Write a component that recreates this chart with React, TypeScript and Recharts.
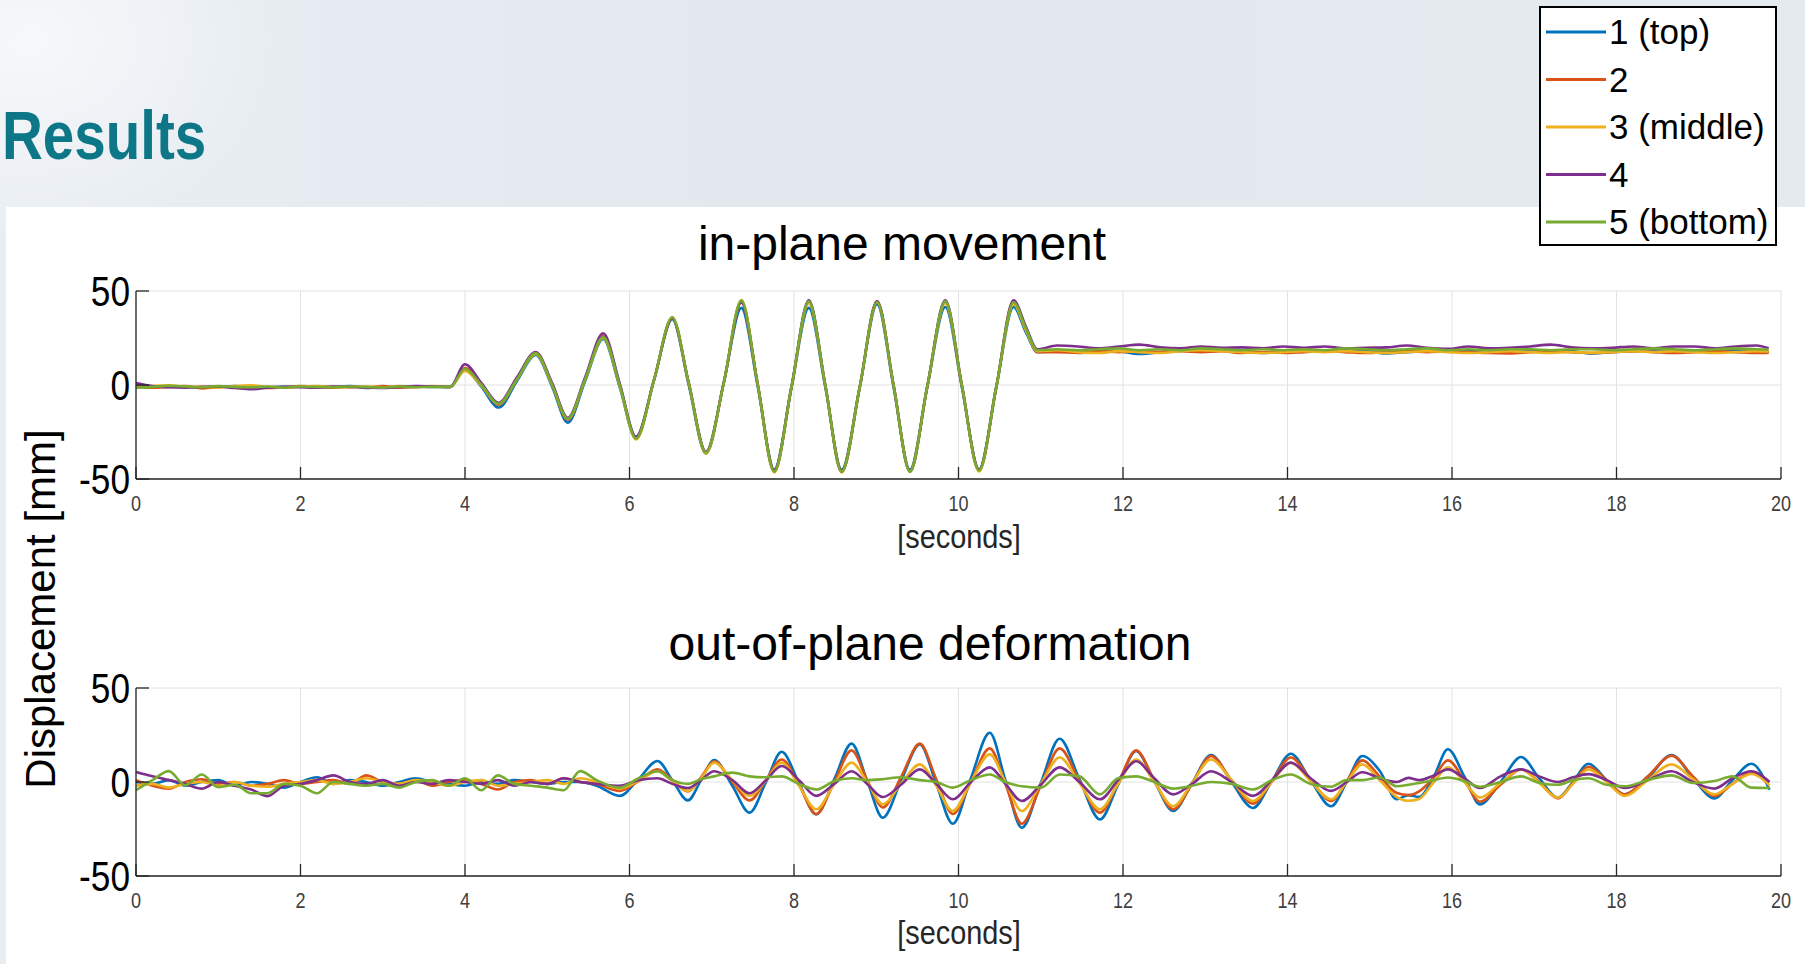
import React from "react";
import { LineChart, Line, XAxis, YAxis, CartesianGrid } from "recharts";

// series labels / colours (MATLAB default order)
const seriesNames = ["1 (top)", "2", "3 (middle)", "4", "5 (bottom)"];
const seriesColors = ["#0072BD", "#D95319", "#EDB120", "#7E2F8E", "#77AC30"];

const xTicks = [0, 2, 4, 6, 8, 10, 12, 14, 16, 18, 20];
const yTicks = [-50, 0, 50];

// ---- in-plane movement ----
const topTime = [
  0, 0.2, 0.4, 0.6, 0.8, 1, 1.2, 1.4, 1.6, 1.8, 2, 2.2, 2.4, 2.6, 2.8, 3, 3.2, 3.4, 3.6,
  3.82, 4, 4.2, 4.41, 4.63, 4.86, 5.06, 5.25, 5.46, 5.68, 5.88, 6.08, 6.3, 6.52, 6.72, 6.93, 7.15, 7.36,
  7.56, 7.76, 7.97, 8.18, 8.38, 8.58, 8.8, 9.01, 9.21, 9.41, 9.62, 9.84, 10.04, 10.25, 10.46, 10.67, 10.82, 10.96,
  11.2, 11.45, 11.7, 11.95, 12.2, 12.45, 12.7, 12.95, 13.2, 13.45, 13.7, 13.95, 14.2, 14.45, 14.7, 14.95, 15.2,
  15.45, 15.7, 15.95, 16.2, 16.45, 16.7, 16.95, 17.2, 17.45, 17.7, 17.95, 18.2, 18.45, 18.7, 18.95, 19.2, 19.45,
  19.7, 19.85,
];
const top1 = [
  -1, -1, -0.8, -1, -1.2, -1, -0.6, -1.4, -1.2, -1, -0.8, -1.2, -1, -0.6, -1.6, -1, -1.2, -0.8, -1,
  -1, 8, -1, -12, 2, 16, -1, -20, 2, 24.5, -1, -28.5, 3, 35, 0, -36.5, 2, 41, -1, -45, -1, 41, -1, -45, -1, 43,
  -1, -45, -1, 41.5, -1, -45, -1, 41.5, 28, 17.5,
  18, 17.5, 18.5, 18, 16.5, 17.5, 18.5, 18, 18.5, 18, 17, 18, 18.5, 18, 18.5, 18, 16.8, 17.5, 18, 18.5, 18, 18.5,
  17.5, 18, 18.5, 18, 16.8, 17.5, 18, 18.5, 18, 18, 17.5, 18.5, 18, 17.5,
];
const top2 = [
  -0.5, -1.5, -1, -0.6, -1.8, -1, -1.2, -0.8, -1.6, -1.2, -0.6, -1, -1.4, -1, -1.2, -0.6, -1.4, -1, -0.8,
  -1, 9, 0, -10.5, 3, 17, 0, -18.5, 3, 26, 0, -28, 3, 35.5, 1, -36, 2, 44, 0, -46, -1, 44, 0, -46, -1, 44.5,
  0, -46, -1, 44, 0, -45.5, -1, 44.5, 30, 17.5,
  17.5, 17, 18, 17.5, 18, 17.5, 18, 17.5, 18, 17, 17.5, 17, 17.5, 18, 17.5, 17, 17.5, 18, 17.5, 18, 17.5, 17,
  16.8, 17.5, 18, 17.5, 17, 17.5, 18, 17.5, 17, 17.5, 18, 17.5, 17, 17.2,
];
const top3 = [
  -1.5, -0.5, -0.2, -1, -0.8, -1.4, -0.6, -0.2, -1, -1.4, -0.8, -0.6, -1, -1.2, -0.8, -1.2, -0.6, -1, -0.6,
  -1, 7.5, -0.5, -10, 3, 16.5, 0, -18, 3, 25, 0, -29, 3, 36, 1, -36.5, 2, 45, 0, -46.5, -1, 43.5, 0, -46.5, -1, 44,
  0, -46, -1, 43.5, 0, -46, -1, 43, 29, 18,
  18.5, 17.5, 17, 18, 17.5, 17, 18, 18.5, 18, 17.5, 17, 17.5, 18, 17.5, 18, 17.5, 17, 17.5, 18, 17.5, 17, 17.5,
  18, 17.5, 17, 17.5, 17.2, 17.5, 18, 17.5, 18, 17.5, 17, 17.5, 18, 17.8,
];
const top4 = [
  1, -0.6, -1.2, -1.4, -1, -0.8, -1.6, -2.3, -1.4, -1, -1.2, -1.4, -0.8, -1, -1.2, -1.6, -1, -0.6, -0.8,
  -1, 11, 1, -9.5, 4, 17.5, 1, -17.5, 4, 27.5, 1, -27.5, 3, 35.5, 1, -35.5, 2, 44, 0, -45.5, -1, 45, 0, -46, -1, 44.5,
  0, -46, -1, 45, 0, -45, -1, 45, 31, 19,
  21, 20.5, 19.5, 20.5, 21.5, 20, 19.5, 20.5, 19.8, 20, 19.5, 20.5, 19.8, 20.5, 19.5, 19.8, 20, 21, 19.8, 19.2,
  20.5, 19.5, 19.8, 20.5, 21.5, 20, 19.5, 19.8, 20.5, 19.5, 20.5, 20.5, 19.5, 20.5, 21, 19.5,
];
const top5 = [
  -1.4, -1, -0.4, -0.8, -1.2, -0.6, -1, -1.2, -0.8, -1.4, -0.8, -1, -1.2, -0.8, -1, -1.4, -0.8, -1.2, -1,
  -1, 8.5, 0, -10, 3, 17, 0, -18, 3, 25.5, 0, -28.5, 3, 36, 1, -36, 2, 45, 0, -46, -1, 44.5, 0, -46, -1, 44,
  0, -46, -1, 44.5, 0, -45.5, -1, 44, 30, 18.5,
  19, 18.5, 19, 19.5, 18.5, 19, 18.5, 19.5, 19, 18.5, 19, 18.5, 19, 18.5, 19.5, 19, 18.5, 19, 19.5, 18.5, 19,
  18.5, 19, 19, 18.5, 19, 19, 18.5, 19, 19.5, 19, 18.5, 19, 19.5, 19, 18.8,
];

// ---- out-of-plane deformation ----
const botTime = [
  0, 0.2, 0.4, 0.6, 0.8, 1, 1.2, 1.4, 1.6, 1.8, 2, 2.2, 2.4, 2.6, 2.8, 3, 3.2, 3.4, 3.6, 3.8, 4, 4.2, 4.4, 4.6,
  4.8, 5, 5.2, 5.4, 5.6,
  5.88, 6.11, 6.34, 6.52, 6.71, 6.87, 7.03, 7.25, 7.46, 7.66, 7.85, 8.06, 8.27, 8.49, 8.7, 8.89, 9.08, 9.3, 9.53,
  9.73, 9.93, 10.15, 10.38, 10.57, 10.77, 11, 11.23, 11.47, 11.72, 11.94, 12.16, 12.38, 12.61, 12.84, 13.07,
  13.32, 13.58, 13.81, 14.04, 14.28, 14.53, 14.72, 14.91, 15.12, 15.33, 15.47, 15.6, 15.78, 15.95, 16.15, 16.34,
  16.59, 16.84, 17.06, 17.29, 17.47, 17.66, 17.88, 18.1, 18.38, 18.67, 18.93, 19.19, 19.41, 19.64, 19.86,
];
const bot1 = [
  0, -1, 1, -2, 0, 1, -2, 0, -1, -3, 0, 2.5, -1, 1, 0, -2, 0, 2, 0, -1, -2, 0, -1, 1, 0, -1, 0, 0, -2,
  -7.4, 1.5, 11.2, 1, -9.8, 1, 11.7, -2, -16.3, 0, 16.1, -0.5, -17.2, 1.5, 20.4, 0.5, -19, 0.5, 20, -1,
  -22.2, 2, 26.2, 1, -24.3, -0.5, 23, 1.5, -19.9, -1.5, 16.5, 0.5, -15.4, -0.5, 14.4, 0, -13.8, 0.5, 15, 1,
  -12.9, 0, 13.8, 6, -9.2, -7, -8, 3, 17.4, 3, -11.9, 0, 13.3, 2, -8.3, 0, 9.7, 1, -6.6, 2, 14.4, 2, -8.7, 1,
  9.7, -4.1,
];
const bot2 = [
  1, -2, -3.5, 0, 1.5, -1, 0, -2, -1, 1, -1, 0, 1, -1, 3.5, 0, -1, 1, -2, 0, 1, -1, -4, 0, 1, -1, 2, 0, -1,
  -4.7, 0.5, 6.7, 1, -5, 2.5, 11, 0, -9.8, 1, 12, -1.5, -17, 0, 16.8, 1, -13.5, 2.5, 20.4, 1.5,
  -17, 0, 17.9, -1, -22.2, -2, 17.9, 0.5, -16.3, -0.5, 16.8, 1, -14.5, -1, 13.8, 1, -11.5, 0.5, 13, 1.5,
  -10.1, 0.5, 11.5, 3, -5.9, -7, -5, 2.5, 11.5, 1, -10.5, -1.5, 6.7, 0, -8.7, -0.5, 8.1, 1, -6.6, 3, 14, 3,
  -7.4, -1, 5.2, 0,
];
const bot3 = [
  -2, -1, -3, -1, 0, -2, 0, -2, -2.5, -1, 0, 1, -1, 0, 2, 0, -1, 1, 0, -2, 0, 1, -2, -1, 0, 1, -1, 2, 0,
  -3.5, 0.5, 5.7, 0.5, -4.7, 2, 10.3, 1, -7.4, 1, 10.3, -2, -14.5, -1, 10.3, 0, -11.8, -1, 9.4, -2,
  -15.4, 0, 14.7, 0, -15.4, -1, 13, -0.5, -14.5, -1, 12, 0, -12.9, -0.5, 12, 1, -10.1, 0, 10.3, 0.5,
  -9.2, 0, 9.4, 1, -8, -10, -9, 0, 7.8, 0, -8.3, -0.5, 6.7, -0.5, -8.3, -1, 6.7, 0, -7.4, 1, 9.4, 1.5,
  -6.6, -1, 4.3, -1.8,
];
const bot4 = [
  5.3, 3, 1, -1, -3.5, 0, -2, -4, -7.5, -2, -1, 1, 3.5, 0, -1, 1, -2, 0, -1, 1, 0, -1, 1, -2, 0, -1, 2, 0, -1,
  -2, 1, 2, -1, -3.2, 1, 5.7, 1, -6, 1, 8.5, 1, -7.4, -1, 5.7, -1, -8, -1.5, 6.7, -1,
  -9.2, 0, 7.8, -1, -10.1, -1.5, 7.8, 0, -9.2, 1, 11, 2, -6.6, -1, 5.7, 0, -7.4, 1, 10.3, 2,
  -4.7, 0, 5.2, 2, 0, 2.2, 1, 3.5, 6.7, 2, -3.2, 3, 6.7, 3, 0, 2.5, 4.2, 1, -3.2, 1, 5.7, 0,
  -3.5, 2, 5.7, 0,
];
const bot5 = [
  -4.4, 1, 5.8, -1.8, 4, -2.7, -1.5, -6, -6, -1, -2, -6, 0, -1, -2, -1, -3, 0, 1, -2, 2, -4.4, 3.5, -1, -2, -3,
  -4.4, 5.8, 1,
  -3, 2, 5.7, 1, -1, 1.5, 3, 5, 3, 2.5, 3, -1, -4, 0.5, 2, 1, 1.5, 2.5, 1, 0,
  -3, 1, 4, 0, -2.3, -3, 4, 3, -6.6, 2, 3, 0, -3.5, -2, 0, -1, -4, 1, 4, -1,
  -2.5, 1, 1, 2.4, -2.3, -1.5, -0.5, 1, 2.4, 0.5, -2.5, 0, 3, -0.5, -1.5, 1, 2, -1.5, -2.3, 1, 3.5, -0.5,
  0.5, 3, -3, -3.2,
];

const makeRows = (time: number[], series: number[][]) =>
  time.map((t, i) => {
    const row: Record<string, number> = { t };
    series.forEach((s, k) => {
      row[`s${k + 1}`] = s[i];
    });
    return row;
  });

const topData = makeRows(topTime, [top1, top2, top3, top4, top5]);
const botData = makeRows(botTime, [bot1, bot2, bot3, bot4, bot5]);

const FONT = "'Liberation Sans', Arial, Helvetica, sans-serif";
const AXIS = "#262626";

// MATLAB style: ticks point inwards, narrow labels
const XTick = ({ x, y, payload }: any) => (
  <g>
    <line x1={x} y1={y} x2={x} y2={y - 12} stroke={AXIS} strokeWidth={1.3} />
    <text
      transform={`translate(${x},${y + 32}) scale(0.82,1)`}
      textAnchor="middle"
      fontSize={22}
      fontFamily={FONT}
      fill="#404040"
    >
      {payload.value}
    </text>
  </g>
);

const YTick = ({ x, y, payload }: any) => (
  <g>
    <line x1={x} y1={y} x2={x + 13} y2={y} stroke={AXIS} strokeWidth={1.3} />
    <text
      transform={`translate(${x - 6},${y + 15}) scale(0.82,1)`}
      textAnchor="end"
      fontSize={43}
      fontFamily={FONT}
      fill="#000"
    >
      {payload.value}
    </text>
  </g>
);

const Panel = ({ data, top, height, marginTop }: any) => (
  <div style={{ position: "absolute", left: 0, top }}>
    <LineChart
      width={1805}
      height={height}
      data={data}
      margin={{ top: marginTop, right: 24, bottom: 0, left: 0 }}
    >
      <CartesianGrid stroke="#e2e2e2" strokeWidth={1} />
      <XAxis
        dataKey="t"
        type="number"
        domain={[0, 20]}
        ticks={xTicks}
        interval={0}
        height={height - marginTop - 188}
        tickSize={0}
        tickMargin={0}
        tickLine={false}
        tick={<XTick />}
        axisLine={{ stroke: AXIS, strokeWidth: 1.3 }}
      />
      <YAxis
        type="number"
        domain={[-50, 50]}
        ticks={yTicks}
        interval={0}
        width={136}
        tickSize={0}
        tickMargin={0}
        tickLine={false}
        tick={<YTick />}
        axisLine={{ stroke: AXIS, strokeWidth: 1.3 }}
      />
      {seriesColors.map((c, k) => (
        <Line
          key={k}
          type="monotone"
          dataKey={`s${k + 1}`}
          stroke={c}
          strokeWidth={2.6}
          dot={false}
          isAnimationActive={false}
        />
      ))}
    </LineChart>
  </div>
);

const App: React.FC = () => {
  return (
    <div
      style={{
        position: "absolute",
        left: 0,
        top: 0,
        width: 1805,
        height: 964,
        overflow: "hidden",
        background:
          "radial-gradient(ellipse 260px 200px at 30px 40px, #f6f8fa 0%, rgba(246,248,250,0) 100%), linear-gradient(90deg, #e9eef3 0%, #e2e8ee 45%, #e5eaef 100%)",
        fontFamily: FONT,
      }}
    >
      {/* white slide panel */}
      <div style={{ position: "absolute", left: 6, top: 207, width: 1799, height: 757, background: "#fff" }} />

      <svg width={1805} height={964} style={{ position: "absolute", left: 0, top: 0 }}>
        <text
          transform="translate(2,159) scale(0.82,1)"
          fontSize={69}
          fontWeight="bold"
          fontFamily={FONT}
          fill="#0e7787"
        >
          Results
        </text>
        <text x={902} y={260} textAnchor="middle" fontSize={48} fontFamily={FONT} fill="#000">
          in-plane movement
        </text>
        <text x={930} y={660} textAnchor="middle" fontSize={48} fontFamily={FONT} fill="#000">
          out-of-plane deformation
        </text>
        <text transform="translate(959,548) scale(0.85,1)" textAnchor="middle" fontSize={34} fontFamily={FONT} fill="#262626">
          [seconds]
        </text>
        <text transform="translate(959,944) scale(0.85,1)" textAnchor="middle" fontSize={34} fontFamily={FONT} fill="#262626">
          [seconds]
        </text>
        <text transform="translate(55,609) rotate(-90)" textAnchor="middle" fontSize={42} fontFamily={FONT} fill="#000">
          Displacement [mm]
        </text>

        {/* legend */}
        <rect x={1540} y={7} width={236} height={238} fill="#fff" stroke="#000" strokeWidth={2} />
        {seriesNames.map((name, k) => {
          const cy = 32 + k * 47.5;
          return (
            <g key={name}>
              <line x1={1546} y1={cy} x2={1606} y2={cy} stroke={seriesColors[k]} strokeWidth={3} />
              <text x={1609} y={cy + 12} fontSize={35} fontFamily={FONT} fill="#000">
                {name}
              </text>
            </g>
          );
        })}
      </svg>

      <Panel data={topData} top={207} height={350} marginTop={84} />
      <Panel data={botData} top={600} height={340} marginTop={88} />
    </div>
  );
};

export default App;
